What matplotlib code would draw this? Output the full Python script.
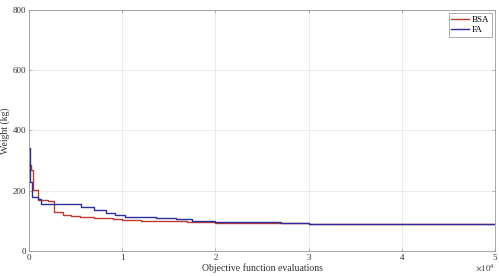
import matplotlib
matplotlib.use("Agg")
import matplotlib.pyplot as plt

# convergence history (evaluations, weight in kg)
bsa_evals = [0, 200, 400, 1000, 2000, 2650, 3700, 4500, 5500, 7000, 9000,
             10000, 12000, 14000, 17000, 20000, 25000, 30000, 50000]
bsa_weight = [285, 270, 202, 170, 165, 130, 120, 115, 112, 110, 107,
              104, 101, 99, 97, 94, 92, 91, 91]

fa_evals = [0, 150, 350, 1000, 1300, 5600, 7000, 8300, 9200, 10300, 13600,
            15800, 17500, 20000, 24000, 27000, 30000, 50000]
fa_weight = [343, 230, 180, 172, 157, 147, 137, 127, 120, 114, 111,
             106, 100, 97, 95, 93, 91, 91]

xticks = [0, 10000, 20000, 30000, 40000, 50000]
xticklabels = ["0", "1", "2", "3", "4", "5"]
yticks = [0, 200, 400, 600, 800]

plt.rcParams["font.family"] = ["Liberation Serif", "DejaVu Serif"]
plt.rcParams["mathtext.fontset"] = "stix"

fig = plt.figure(figsize=(4.99, 2.76), dpi=100)
ax = fig.add_axes([0.058, 0.0906, 0.934, 0.8732])

ax.step(bsa_evals, bsa_weight, where="post", color="#c0392f", lw=1.0, label="BSA")
ax.step(fa_evals, fa_weight, where="post", color="#2b2f9a", lw=1.0, label="FA")

ax.set_xlim(0, 50000)
ax.set_ylim(0, 800)
ax.set_xticks(xticks)
ax.set_xticklabels(xticklabels)
ax.set_yticks(yticks)
ax.grid(True, color="#e6e6e6", lw=0.6)
ax.tick_params(direction="in", length=2.5, width=0.5, labelsize=6.5,
               colors="#999999", labelcolor="#333333", top=True, right=True, pad=2)
for s in ax.spines.values():
    s.set_color("#999999")
    s.set_linewidth(0.6)

ax.set_xlabel("Objective function evaluations", fontsize=7, color="#333333", labelpad=1)
ax.set_ylabel("Weight (kg)", fontsize=7, color="#333333")
ax.yaxis.set_label_coords(-0.041, 0.5)
ax.text(1.0, -0.045, r"$\times10^4$", transform=ax.transAxes, ha="right", va="top",
        fontsize=6.5, color="#333333")

leg = ax.legend(loc="upper right", fontsize=6.5, handlelength=2.0, handletextpad=0.3,
                borderpad=0.3, labelspacing=0.2, fancybox=False, borderaxespad=0.3)
leg.get_frame().set_edgecolor("#888888")
leg.get_frame().set_linewidth(0.6)

fig.savefig("out.png", dpi=100)
